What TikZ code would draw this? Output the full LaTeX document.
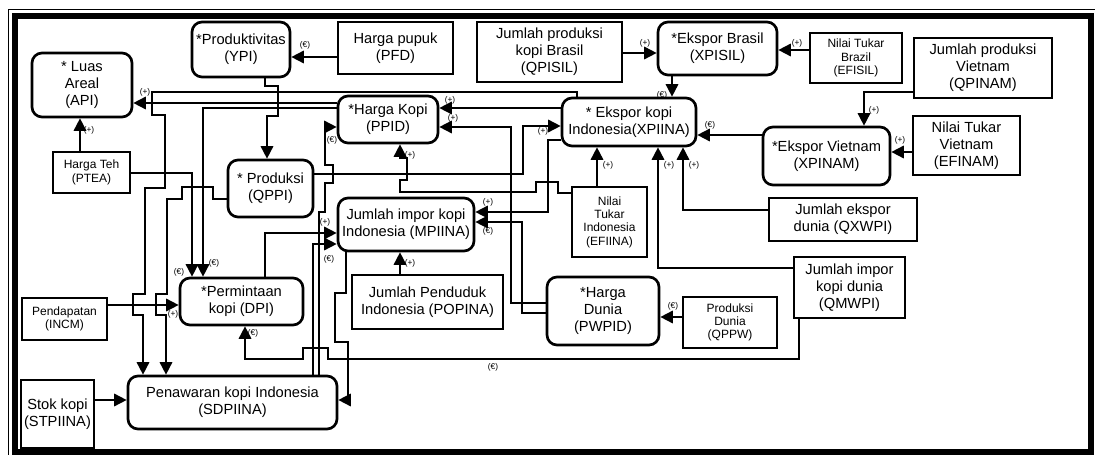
\documentclass[tikz,border=0pt]{standalone}
\usepackage{fontspec}
\setmainfont{Liberation Sans}
\usetikzlibrary{arrows.meta}
\begin{document}
\begin{tikzpicture}[x=0.6pt,y=-0.6pt,
    box/.style={draw, line width=1pt, align=center, inner sep=0pt, font=\fontsize{8.8}{10.2}\selectfont},
    rbox/.style={box, line width=1.6pt, rounded corners=6pt},
    sbox/.style={box, font=\fontsize{7.2}{8}\selectfont},
    arr/.style={-{Triangle[length=7.5pt,width=7.5pt]}, line width=1pt},
    sgn/.style={inner sep=0pt, font=\fontsize{5}{5}\selectfont}]
\useasboundingbox (0,0) rectangle (1095,455);
% frame
\draw[line width=0.6pt] (8,10) rectangle (1102,464);
\draw[line width=3.6pt] (15,16.5) rectangle (1091,452);
% boxes
\node[rbox, minimum width=60pt, minimum height=38.4pt] (api) at (82,85) {* Luas\\Areal\\(API)};
\node[rbox, minimum width=58.8pt, minimum height=33pt] (ypi) at (241,49.5) {*Produktivitas\\(YPI)};
\node[box, minimum width=69pt, minimum height=31.2pt] (pfd) at (395.5,48) {Harga pupuk\\(PFD)};
\node[box, minimum width=87pt, minimum height=36pt] (qpisil) at (549.5,52) {Jumlah produksi\\kopi Brasil\\(QPISIL)};
\node[rbox, minimum width=71.4pt, minimum height=31.8pt] (xpisil) at (717.5,48.5) {*Ekspor Brasil\\(XPISIL)};
\node[sbox, minimum width=55.2pt, minimum height=30pt] (efisil) at (856,58) {Nilai Tukar\\Brazil\\(EFISIL)};
\node[box, minimum width=82.8pt, minimum height=36pt] (qpinam) at (983,68) {Jumlah produksi\\Vietnam\\(QPINAM)};
\node[rbox, minimum width=76.2pt, minimum height=34.8pt] (xpinam) at (826.5,156) {*Ekspor Vietnam\\(XPINAM)};
\node[box, minimum width=64.2pt, minimum height=35.4pt] (efinam) at (966.5,145.5) {Nilai Tukar\\Vietnam\\(EFINAM)};
\node[rbox, minimum width=80.4pt, minimum height=28.8pt] (xpiina) at (629,122) {* Ekspor kopi\\Indonesia(XPIINA)};
\node[rbox, minimum width=60pt, minimum height=28.2pt] (ppid) at (388,119.5) {*Harga Kopi\\(PPID)};
\node[rbox, minimum width=51pt, minimum height=34.2pt] (qppi) at (270.5,188.5) {* Produksi\\(QPPI)};
\node[rbox, minimum width=81.6pt, minimum height=31.8pt] (mpiina) at (406,224.5) {Jumlah impor kopi\\Indonesia (MPIINA)};
\node[sbox, minimum width=45pt, minimum height=42pt] (efiina) at (609.5,222) {Nilai\\Tukar\\Indonesia\\(EFIINA)};
\node[box, minimum width=88.8pt, minimum height=25.8pt] (qxwpi) at (843,219.5) {Jumlah ekspor\\dunia (QXWPI)};
\node[box, minimum width=66.6pt, minimum height=36.6pt] (qmwpi) at (849.5,287.5) {Jumlah impor\\kopi dunia\\(QMWPI)};
\node[rbox, minimum width=67.2pt, minimum height=40.8pt] (pwpid) at (603,311) {*Harga\\Dunia\\(PWPID)};
\node[sbox, minimum width=56.4pt, minimum height=30.6pt] (qppw) at (730,322.5) {Produksi\\Dunia\\(QPPW)};
\node[box, minimum width=90.6pt, minimum height=32.4pt] (popina) at (427.5,302) {Jumlah Penduduk\\Indonesia (POPINA)};
\node[rbox, minimum width=73.8pt, minimum height=28.2pt] (dpi) at (241.5,301.5) {*Permintaan\\kopi (DPI)};
\node[sbox, minimum width=51pt, minimum height=25.2pt] (incm) at (64.5,319) {Pendapatan\\(INCM)};
\node[sbox, minimum width=46.2pt, minimum height=24.6pt] (ptea) at (91.5,172.5) {Harga Teh\\(PTEA)};
\node[box, minimum width=43.8pt, minimum height=40.8pt] (stpiina) at (57.5,414) {Stok kopi\\(STPIINA)};
\node[rbox, minimum width=125.4pt, minimum height=31.8pt] (sdpiina) at (232.5,402.5) {Penawaran kopi Indonesia\\(SDPIINA)};
% left part
\draw[arr] (ppid.west |- 0,103) -- (api.east |- 0,103);
\node[sgn] (s1) at (145,92) {(+)};
\draw[arr] (ptea.north -| 80,0) -- (api.south -| 80,0);
\node[sgn] (s2) at (89,130) {(+)};
\draw[arr] (pfd.west |- 0,57) -- (ypi.east |- 0,57);
\node[sgn] (s3) at (305,45) {(€)};
\draw[arr] (ypi.south -| 265,0) -- (265,86) -- (278,86) -- (278,116) -- (267,116) -- (qppi.north -| 267,0);
\draw[arr] (xpiina.north -| 577,0) -- (577,92) -- (152,92) -- (152,115) -- (165,115) -- (165,188) -- (145,188) -- (145,294) -- (133,294) -- (133,315) -- (143,315) -- (sdpiina.north -| 143,0);
\draw[arr] (qppi.west |- 0,199) -- (213,199) -- (213,187) -- (182,187) -- (182,199) -- (167,199) -- (167,294) -- (156,294) -- (156,315) -- (166,315) -- (sdpiina.north -| 166,0);
\draw[arr] (ptea.east |- 0,173) -- (192,173) -- (dpi.north -| 192,0);
\node[sgn] (s4) at (179,272) {(€)};
\draw[arr] (ppid.west |- 0,108) -- (203,108) -- (dpi.north -| 203,0);
\node[sgn] (s5) at (214,263) {(€)};
\draw[arr] (incm.east |- 0,305) -- (dpi.west |- 0,305);
\node[sgn] (s6) at (173,314) {(+)};
\draw[arr] (stpiina.east |- 0,400) -- (sdpiina.west |- 0,400);
\draw[arr] (qmwpi.south -| 799,0) -- (799,359) -- (328,359) -- (328,348) -- (303,348) -- (303,359) -- (245,359) -- (dpi.south -| 245,0);
\node[sgn] (s7) at (493,367) {(€)};
\node[sgn] (s8) at (253,333) {(€)};
% middle part
\draw[arr] (dpi.north -| 265,0) -- (265,233) -- (mpiina.west |- 0,233);
\node[sgn] (s9) at (325,222) {(+)};
\draw[arr] (sdpiina.north -| 313,0) -- (313,244) -- (mpiina.west |- 0,244);
\node[sgn] (s10) at (329,259) {(€)};
\draw[arr] (sdpiina.north -| 319,0) -- (319,212) -- (325,212) -- (325,183) -- (333,183) -- (333,165) -- (325,165) -- (325,127) -- (ppid.west |- 0,127);
\node[sgn] (s11) at (332,140) {(€)};
\draw[arr] (mpiina.south -| 346,0) -- (346,293) -- (335,293) -- (335,342) -- (348,342) -- (348,400) -- (sdpiina.east |- 0,400);
\draw[arr] (popina.north -| 400,0) -- (mpiina.south -| 400,0);
\node[sgn] (s12) at (410,263) {(+)};
\draw[arr] (efiina.west |- 0,193) -- (558,193) -- (558,182) -- (536,182) -- (536,192) -- (400,192) -- (400,180) -- (407,180) -- (407,158) -- (400,158) -- (ppid.south -| 400,0);
\node[sgn] (s13) at (410,155) {(+)};
\draw[arr] (qppi.east |- 0,174) -- (523,174) -- (523,126) -- (xpiina.west |- 0,126);
\node[sgn] (s14) at (543,131) {(+)};
\draw[arr] (xpiina.west |- 0,108) -- (ppid.east |- 0,108);
\node[sgn] (s15) at (450,100) {(+)};
\draw[arr] (xpiina.west |- 0,140) -- (548,140) -- (548,212) -- (mpiina.east |- 0,212);
\node[sgn] (s16) at (488,202) {(+)};
\draw[arr] (pwpid.west |- 0,303) -- (511,303) -- (511,127) -- (ppid.east |- 0,127);
\node[sgn] (s17) at (453,118) {(+)};
\draw[arr] (pwpid.west |- 0,313) -- (522,313) -- (522,222) -- (mpiina.east |- 0,222);
\node[sgn] (s18) at (488,231) {(€)};
% right part
\draw[arr] (efiina.north -| 597,0) -- (xpiina.south -| 597,0);
\node[sgn] (s19) at (608,165) {(+)};
\draw[arr] (qmwpi.west |- 0,268) -- (658,268) -- (xpiina.south -| 658,0);
\node[sgn] (s20) at (669,165) {(+)};
\draw[arr] (qxwpi.west |- 0,210) -- (683,210) -- (xpiina.south -| 683,0);
\node[sgn] (s21) at (694,165) {(+)};
\draw[arr] (xpisil.south -| 672,0) -- (xpiina.north -| 672,0);
\node[sgn] (s22) at (662,95) {(€)};
\draw[arr] (xpinam.west |- 0,135) -- (xpiina.east |- 0,135);
\node[sgn] (s23) at (710,125) {(€)};
\draw[arr] (qpisil.east |- 0,53) -- (xpisil.west |- 0,53);
\node[sgn] (s24) at (645,43) {(+)};
\draw[arr] (efisil.west |- 0,50) -- (xpisil.east |- 0,50);
\node[sgn] (s25) at (797,43) {(+)};
\draw[arr] (qpinam.west |- 0,92) -- (864,92) -- (xpinam.north -| 864,0);
\node[sgn] (s26) at (874,110) {(+)};
\draw[arr] (efinam.west |- 0,152) -- (xpinam.east |- 0,152);
\node[sgn] (s27) at (900,140) {(+)};
\draw[arr] (qppw.west |- 0,317) -- (pwpid.east |- 0,317);
\node[sgn] (s28) at (673,306) {(€)};
\end{tikzpicture}
\end{document}
